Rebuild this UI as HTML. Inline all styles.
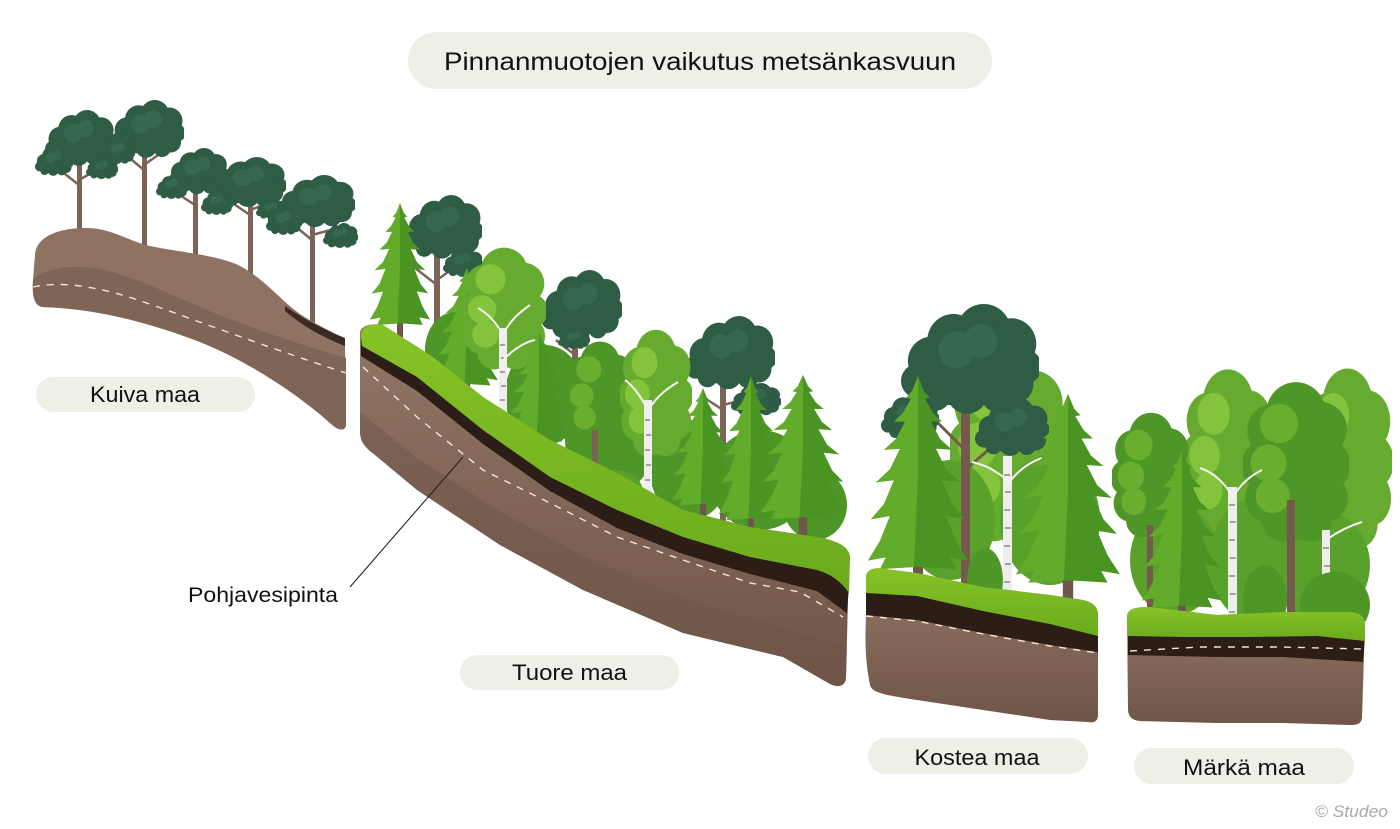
<!DOCTYPE html>
<html><head><meta charset="utf-8"><style>
html,body{margin:0;padding:0;background:#fff;}
svg{display:block;}
text{font-family:"Liberation Sans",sans-serif;fill:#111;}
</style></head><body>
<svg width="1400" height="829" viewBox="0 0 1400 829" xmlns="http://www.w3.org/2000/svg">
<defs>
<symbol id="pc" viewBox="0 0 100 80" preserveAspectRatio="none">
<g fill="#2e5c44">
<ellipse cx="50" cy="42" rx="42" ry="26"/>
<circle cx="22" cy="40" r="17"/><circle cx="38" cy="26" r="19"/><circle cx="60" cy="20" r="20"/><circle cx="80" cy="28" r="18"/><circle cx="90" cy="44" r="12"/><circle cx="12" cy="54" r="12"/><circle cx="35" cy="52" r="19"/><circle cx="62" cy="46" r="21"/><circle cx="82" cy="56" r="14"/><circle cx="48" cy="62" r="15"/><circle cx="25" cy="64" r="11"/><circle cx="70" cy="64" r="12"/>
</g>
<g fill="#36684d"><circle cx="40" cy="32" r="13"/><circle cx="58" cy="26" r="12"/></g>
</symbol>
<symbol id="dc" viewBox="0 0 100 150" preserveAspectRatio="none">
<g fill="#4f9628">
<ellipse cx="50" cy="78" rx="44" ry="68"/>
<circle cx="50" cy="30" r="28"/><circle cx="28" cy="46" r="24"/><circle cx="73" cy="45" r="25"/><circle cx="20" cy="78" r="22"/><circle cx="80" cy="78" r="22"/><circle cx="24" cy="108" r="22"/><circle cx="77" cy="108" r="22"/><circle cx="38" cy="128" r="20"/><circle cx="64" cy="128" r="20"/>
</g>
<g fill="#6aae30"><circle cx="34" cy="40" r="18"/><circle cx="24" cy="76" r="17"/><circle cx="28" cy="106" r="16"/></g>
</symbol>
<symbol id="dl" viewBox="0 0 100 150" preserveAspectRatio="none">
<g fill="#66ab2f">
<ellipse cx="50" cy="78" rx="44" ry="68"/>
<circle cx="50" cy="30" r="28"/><circle cx="28" cy="46" r="24"/><circle cx="73" cy="45" r="25"/><circle cx="20" cy="78" r="22"/><circle cx="80" cy="78" r="22"/><circle cx="24" cy="108" r="22"/><circle cx="77" cy="108" r="22"/><circle cx="38" cy="128" r="20"/><circle cx="64" cy="128" r="20"/>
</g>
<g fill="#84c33c"><circle cx="34" cy="40" r="18"/><circle cx="24" cy="76" r="17"/><circle cx="28" cy="106" r="16"/></g>
</symbol>
<symbol id="sp" viewBox="0 0 100 200" preserveAspectRatio="none">
<rect x="45" y="140" width="10" height="60" fill="#6e5648"/>
<polygon fill="#4a9424" points="50,0 56,14 62,20 57,21 65,34 74,42 63,42 72,58 84,68 68,67 78,86 92,98 74,96 84,118 97,132 78,129 88,152 100,170 82,167 88,178 54,176 46,176 12,178 18,167 0,170 12,152 22,129 3,132 16,118 26,96 8,98 22,86 32,67 16,68 28,58 37,42 26,42 35,34 43,21 38,20 44,14"/>
<polygon fill="#63ab2b" points="50,0 44,14 38,20 43,21 35,34 26,42 37,42 28,58 16,68 32,67 22,86 8,98 26,96 16,118 3,132 22,129 12,152 0,170 18,167 12,178 46,176 50,90"/>
</symbol>
<linearGradient id="soil" x1="0" y1="0" x2="0" y2="1"><stop offset="0" stop-color="#927666"/><stop offset="1" stop-color="#6f5547"/></linearGradient>
<linearGradient id="grass" x1="0" y1="0" x2="0" y2="1"><stop offset="0" stop-color="#86c326"/><stop offset="1" stop-color="#6aab1e"/></linearGradient>
</defs>

<!-- title -->
<rect x="408" y="32" width="584" height="57" rx="28.5" fill="#eeefe7"/>
<text x="700" y="70" font-size="25" text-anchor="middle" textLength="512" lengthAdjust="spacingAndGlyphs">Pinnanmuotojen vaikutus metsänkasvuun</text>

<!-- ===== KUIVA trees ===== -->
<g fill="#7b6357">
<rect x="77" y="150" width="5" height="85"/><rect x="142" y="140" width="5" height="112"/><rect x="193" y="185" width="5" height="73"/><rect x="248" y="195" width="5" height="82"/><rect x="310" y="210" width="5" height="115"/>
</g>
<g stroke="#7b6357" stroke-width="2.5" fill="none">
<path d="M79,185 L60,170 M79,180 L100,168 M144,170 L120,150 M144,165 L165,150 M195,205 L175,192 M250,215 L228,200 M250,210 L272,202 M312,240 L290,222 M312,235 L338,228"/>
</g>
<use href="#pc" x="45" y="110" width="70" height="58"/>
<use href="#pc" x="35" y="145" width="38" height="32"/>
<use href="#pc" x="86" y="156" width="32" height="24"/>
<use href="#pc" x="111" y="100" width="73" height="60"/>
<use href="#pc" x="101" y="138" width="34" height="27"/>
<use href="#pc" x="168" y="148" width="60" height="48"/>
<use href="#pc" x="156" y="174" width="32" height="26"/>
<use href="#pc" x="213" y="157" width="73" height="52"/>
<use href="#pc" x="201" y="190" width="32" height="26"/>
<use href="#pc" x="256" y="198" width="30" height="22"/>
<use href="#pc" x="278" y="175" width="77" height="54"/>
<use href="#pc" x="266" y="206" width="36" height="30"/>
<use href="#pc" x="323" y="223" width="35" height="26"/>

<!-- KUIVA ground -->
<path d="M35,255 C36,236 60,228 85,228 C112,228 125,240 150,246 C178,252 210,254 236,264 C262,276 280,300 300,314 C318,326 334,332 345,340 L346,424 C346,432 338,431 330,423 C300,396 250,362 200,342 C150,323 100,309 42,307 C34,305 32,295 33,280 Z" fill="#8e7262"/>
<path d="M33,280 C45,268 75,263 105,270 C145,280 185,302 232,320 C280,338 318,350 346,358 L346,424 C346,432 338,431 330,423 C300,396 250,362 200,342 C150,323 100,309 42,307 C34,305 32,295 33,280 Z" fill="#7f6556"/>
<path d="M285,306 C305,320 325,330 345,338 L345,346 C325,338 305,328 285,311 Z" fill="#3b2a22"/>
<path d="M33,287 C60,281 95,286 135,299 C185,316 260,345 346,373" stroke="#efe6dc" stroke-width="1.4" stroke-dasharray="7 7" fill="none"/>
<rect x="36" y="377" width="219" height="35" rx="17.5" fill="#eeefe7"/>
<text x="145" y="402" font-size="22" text-anchor="middle" textLength="110" lengthAdjust="spacingAndGlyphs">Kuiva maa</text>

<!-- ===== TUORE trees ===== -->
<g fill="#7b6357">
<rect x="434" y="250" width="6" height="120"/><rect x="572" y="330" width="6" height="95"/><rect x="720" y="380" width="6" height="148"/>
</g>
<g stroke="#7b6357" stroke-width="2.5" fill="none"><path d="M437,285 L415,268 M437,280 L462,262 M575,355 L556,340 M723,410 L700,395 M723,405 L750,398"/></g>
<use href="#pc" x="405" y="195" width="77" height="66"/>
<use href="#pc" x="443" y="248" width="40" height="30"/>
<use href="#pc" x="541" y="270" width="81" height="72"/>
<use href="#pc" x="558" y="328" width="32" height="22"/>
<use href="#pc" x="685" y="316" width="90" height="76"/>
<use href="#pc" x="731" y="383" width="50" height="34"/>
<!-- background fill -->
<g fill="#4f9628">
<ellipse cx="455" cy="350" rx="30" ry="38"/>
<ellipse cx="545" cy="395" rx="40" ry="50"/>
<ellipse cx="610" cy="440" rx="45" ry="55"/>
<ellipse cx="690" cy="470" rx="40" ry="50"/>
<ellipse cx="760" cy="480" rx="50" ry="50"/>
<ellipse cx="815" cy="505" rx="32" ry="35"/>
</g>
<use href="#sp" x="370" y="203" width="60" height="137"/>
<use href="#sp" x="436" y="268" width="62" height="132"/>
<use href="#dl" x="462" y="246" width="84" height="125"/>
<rect x="499" y="328" width="8" height="90" fill="#eeeeee"/>
<g stroke="#555" stroke-width="1"><path d="M500,345 h5 M501,358 h5 M500,372 h5 M501,386 h5 M500,400 h5"/></g>
<g stroke="#f4f4f4" stroke-width="2" fill="none"><path d="M503,335 C495,320 485,312 478,308 M503,335 C510,320 520,312 530,305 M503,360 C515,348 525,342 535,340"/></g>
<use href="#dc" x="565" y="340" width="70" height="110"/>
<rect x="592" y="430" width="6" height="58" fill="#7b6357"/>
<use href="#sp" x="508" y="333" width="62" height="122"/>
<use href="#dl" x="620" y="328" width="72" height="130"/>
<rect x="644" y="400" width="8" height="108" fill="#eeeeee"/>
<g stroke="#555" stroke-width="1"><path d="M645,420 h5 M646,435 h5 M645,450 h5 M646,465 h5 M645,480 h5 M646,495 h5"/></g>
<g stroke="#f4f4f4" stroke-width="2" fill="none"><path d="M648,410 C640,395 632,385 625,380 M648,410 C658,395 668,388 678,382"/></g>
<ellipse cx="615" cy="492" rx="28" ry="22" fill="#58a02b"/>
<use href="#sp" x="672" y="388" width="62" height="132"/>
<use href="#sp" x="719" y="376" width="64" height="162"/>
<use href="#sp" x="760" y="375" width="86" height="162"/>

<!-- TUORE ground -->
<path d="M360,332 C362,325 372,323 383,325 L433,357 483,397 550,440 617,473 683,510 750,527 817,537 C840,541 850,548 850,558 L848,600 846,678 C845,688 836,687 830,684 L783,657 683,633 583,590 500,545 417,490 375,455 C362,445 360,440 360,430 Z" fill="url(#soil)"/>
<path d="M360,412 L417,458 500,512 583,556 683,598 783,628 847,648 L846,678 C845,688 836,687 830,684 L783,657 683,633 583,590 500,545 417,490 375,455 C362,445 360,440 360,430 Z" fill="#6e5547" opacity="0.5"/>
<path d="M361,338 L417,372 483,425 550,472 617,505 683,532 750,552 817,565 849,585 L847,613 817,591 750,574 683,554 617,528 550,491 483,444 417,391 361,356 Z" fill="#2d1d17"/>
<path d="M361,336 C362,325 372,323 383,325 L433,357 483,397 550,440 617,473 683,510 750,527 817,537 C840,541 850,548 850,558 L849,593 C840,580 830,574 817,570 L750,557 683,537 617,510 550,477 483,430 417,377 362,346 Z" fill="url(#grass)"/>
<path d="M363,367 L417,417 483,470 550,503 617,537 683,560 750,583 800,592 843,617" stroke="#efe6dc" stroke-width="1.4" stroke-dasharray="7 7" fill="none"/>
<line x1="350" y1="587" x2="463" y2="457" stroke="#222" stroke-width="1.1"/>
<text x="188" y="602" font-size="21" textLength="150" lengthAdjust="spacingAndGlyphs">Pohjavesipinta</text>
<rect x="460" y="655" width="219" height="35" rx="17.5" fill="#eeefe7"/>
<text x="569.5" y="680" font-size="22" text-anchor="middle" textLength="115" lengthAdjust="spacingAndGlyphs">Tuore maa</text>

<!-- ===== KOSTEA trees ===== -->
<use href="#dl" x="950" y="344" width="115" height="200"/>
<g fill="#5aa12c">
<ellipse cx="950" cy="520" rx="45" ry="60"/>
<ellipse cx="1050" cy="520" rx="50" ry="65"/>
</g>
<rect x="961" y="400" width="9" height="200" fill="#74594c"/>
<g stroke="#74594c" stroke-width="3" fill="none"><path d="M965,450 L935,420 M965,470 L1000,440"/></g>
<use href="#pc" x="901" y="304" width="138" height="114"/>
<use href="#pc" x="881" y="393" width="58" height="48"/>
<use href="#pc" x="975" y="398" width="74" height="60"/>
<rect x="1003" y="456" width="9" height="158" fill="#eeeeee"/>
<g stroke="#555" stroke-width="1"><path d="M1004,475 h6 M1005,492 h6 M1004,510 h6 M1005,528 h6 M1004,546 h6 M1005,564 h6 M1004,582 h6 M1005,598 h6"/></g>
<g stroke="#f4f4f4" stroke-width="2" fill="none"><path d="M1007,480 C995,470 985,465 972,462 M1007,485 C1018,470 1030,462 1042,458"/></g>
<ellipse cx="985" cy="580" rx="18" ry="32" fill="#4f9628"/>
<use href="#sp" x="868" y="376" width="100" height="217"/>
<use href="#sp" x="1016" y="394" width="104" height="212"/>

<!-- KOSTEA ground -->
<path d="M866,578 C866,569 875,567 885,569 L917,573 983,587 1050,595 1083,600 C1095,603 1098,608 1098,615 L1098,715 C1098,722 1093,723 1088,722 L1050,720 983,710 917,700 C885,695 872,693 870,685 C865,660 865,640 866,615 Z" fill="url(#soil)"/>
<path d="M866,588 L917,592 983,606 1050,619 1098,630 L1098,652 1050,645 983,633 917,620 866,615 Z" fill="#2d1d17"/>
<path d="M866,578 C866,569 875,567 885,569 L917,573 983,587 1050,595 1083,600 C1095,603 1098,608 1098,615 L1098,636 1050,624 983,611 917,596 866,593 Z" fill="url(#grass)"/>
<path d="M866,616 L917,621 983,634 1050,646 1098,653" stroke="#efe6dc" stroke-width="1.4" stroke-dasharray="7 7" fill="none"/>
<rect x="868" y="738" width="220" height="36" rx="18" fill="#eeefe7"/>
<text x="977" y="765" font-size="22" text-anchor="middle" textLength="125" lengthAdjust="spacingAndGlyphs">Kostea maa</text>

<!-- ===== MÄRKÄ trees ===== -->
<use href="#dl" x="1303" y="366" width="89" height="184"/>
<use href="#dl" x="1183" y="367" width="90" height="175"/>
<g fill="#5aa12c">
<ellipse cx="1175" cy="560" rx="45" ry="55"/>
<ellipse cx="1250" cy="560" rx="40" ry="60"/>
<ellipse cx="1320" cy="565" rx="50" ry="55"/>
</g>
<use href="#dc" x="1243" y="380" width="106" height="164"/>
<rect x="1287" y="500" width="8" height="125" fill="#74594c"/>
<use href="#dc" x="1112" y="411" width="78" height="128"/>
<rect x="1147" y="525" width="6" height="100" fill="#74594c"/>
<rect x="1228" y="487" width="9" height="148" fill="#eeeeee"/>
<g stroke="#555" stroke-width="1"><path d="M1229,505 h6 M1230,522 h6 M1229,540 h6 M1230,558 h6 M1229,576 h6 M1230,594 h6 M1229,612 h6"/></g>
<g stroke="#f4f4f4" stroke-width="2" fill="none"><path d="M1232,495 C1222,480 1212,472 1200,468 M1232,498 C1242,482 1252,475 1262,470 M1326,540 C1340,530 1352,525 1362,522"/></g>
<rect x="1322" y="530" width="8" height="100" fill="#eeeeee"/>
<g stroke="#555" stroke-width="1"><path d="M1323,548 h6 M1324,566 h6 M1323,584 h6 M1324,602 h6"/></g>
<ellipse cx="1265" cy="600" rx="22" ry="35" fill="#4f9628"/>
<ellipse cx="1335" cy="605" rx="35" ry="33" fill="#4f9628"/>
<use href="#sp" x="1142" y="450" width="80" height="177"/>

<!-- MÄRKÄ ground -->
<path d="M1127,617 C1127,609 1135,607 1150,607 L1217,615 1283,612 1350,612 C1362,613 1365,618 1365,625 L1362,718 C1361,725 1355,725 1350,725 L1283,723 1217,723 1140,721 C1130,720 1128,715 1128,708 Z" fill="url(#soil)"/>
<path d="M1128,630 L1183,633 1250,633 1317,632 1365,636 L1363,662 1283,657 1217,657 1128,655 Z" fill="#2d1d17"/>
<path d="M1127,617 C1127,609 1135,607 1150,607 L1217,615 1283,612 1350,612 C1362,613 1365,618 1365,625 L1365,641 1317,636 1250,637 1183,637 1128,636 Z" fill="url(#grass)"/>
<path d="M1130,651 L1200,647 1280,647 1362,649" stroke="#efe6dc" stroke-width="1.4" stroke-dasharray="7 7" fill="none"/>
<rect x="1134" y="748" width="220" height="36" rx="18" fill="#eeefe7"/>
<text x="1244" y="775" font-size="22" text-anchor="middle" textLength="122" lengthAdjust="spacingAndGlyphs">Märkä maa</text>

<text x="1388" y="817" font-size="17" font-style="italic" text-anchor="end" style="fill:#aaaaaa" textLength="73" lengthAdjust="spacingAndGlyphs">© Studeo</text>
</svg>
</body></html>
